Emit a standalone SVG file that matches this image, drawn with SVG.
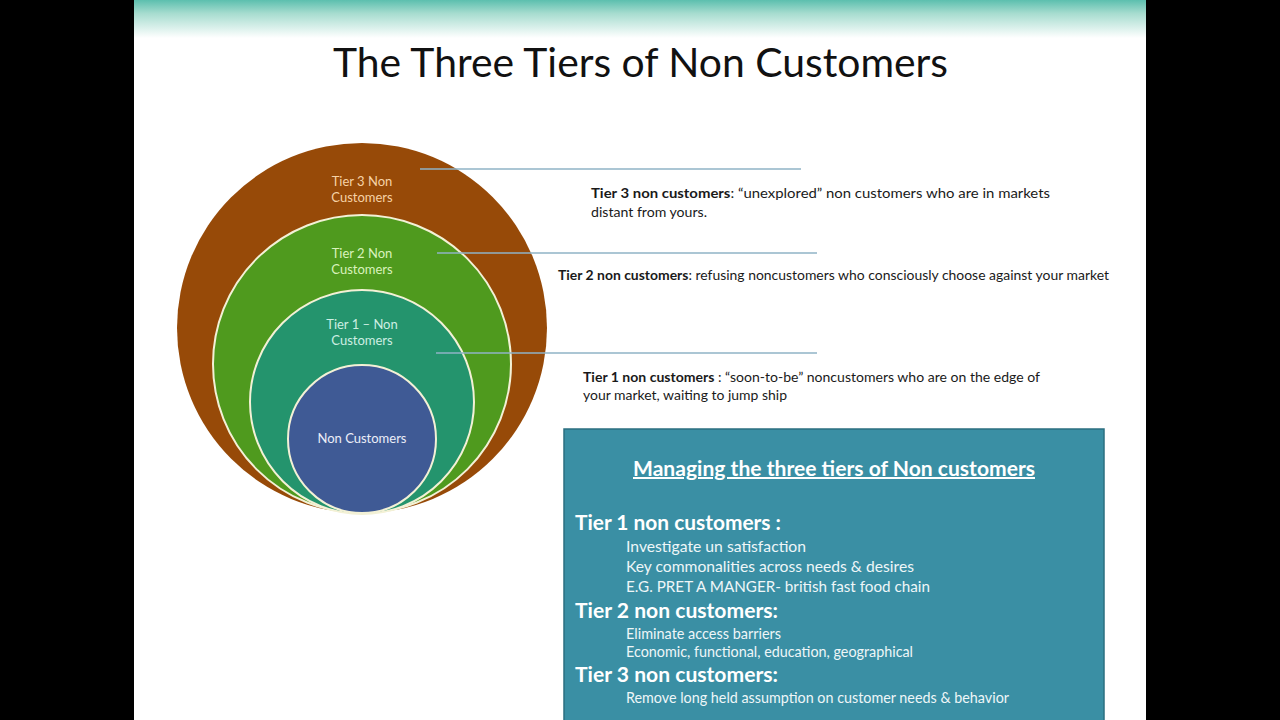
<svg xmlns="http://www.w3.org/2000/svg" width="1280" height="720" viewBox="0 0 1280 720">
<defs>
<linearGradient id="topband" x1="0" y1="0" x2="0" y2="1">
<stop offset="0" stop-color="#5cbfae"/>
<stop offset="0.35" stop-color="#a6dccf"/>
<stop offset="1" stop-color="#ffffff"/>
</linearGradient>
<style>
.ctext{font-family:Lato,"Open Sans",sans-serif;font-size:13px;text-anchor:middle}
.desc{font-family:Lato,"Open Sans",sans-serif;font-size:14px;fill:#1a1a1a}
.lead{stroke:#8fb3c6;stroke-width:1.3;fill:none}
.boxh{font-family:Lato,"Open Sans",sans-serif;font-size:21px;font-weight:bold;fill:#ffffff}
.boxs{font-family:Lato,"Open Sans",sans-serif;font-size:15px;fill:#eef6f8}
.ring{stroke:#f3f1d6;stroke-width:2}
</style>
</defs>
<rect x="0" y="0" width="1280" height="720" fill="#000000"/>
<rect x="134" y="0" width="1012" height="720" fill="#ffffff"/>
<rect x="134" y="0" width="1012" height="38" fill="url(#topband)"/>
<text x="333" y="77" font-family="Lato,'Open Sans',sans-serif" font-size="40" fill="#111111" textLength="615" lengthAdjust="spacingAndGlyphs">The Three Tiers of Non Customers</text>

<g id="tier3">
<circle cx="362" cy="328" r="185" fill="#974a08"/>
<text class="ctext" x="362" y="186" fill="#f6d2a6">Tier 3 Non</text>
<text class="ctext" x="362" y="202" fill="#f6d2a6">Customers</text>
</g>
<g id="tier2">
<circle class="ring" cx="362" cy="364" r="149" fill="#4f9a1e"/>
<text class="ctext" x="362" y="258" fill="#d9f2bd">Tier 2 Non</text>
<text class="ctext" x="362" y="274" fill="#d9f2bd">Customers</text>
</g>
<g id="tier1">
<circle class="ring" cx="362" cy="402" r="112" fill="#24946d"/>
<text class="ctext" x="362" y="329" fill="#cdeee2">Tier 1 – Non</text>
<text class="ctext" x="362" y="345" fill="#cdeee2">Customers</text>
</g>
<g id="noncustomers">
<circle class="ring" cx="362" cy="439" r="74" fill="#3f5a95"/>
<text class="ctext" x="362" y="443" fill="#eceef8">Non Customers</text>
</g>

<g id="connectors">
<line class="lead" x1="420" y1="169" x2="801" y2="169"/>
<line class="lead" x1="437" y1="253" x2="817" y2="253"/>
<line class="lead" x1="436" y1="353" x2="817" y2="353"/>
</g>

<g id="desc3">
<text class="desc" x="591" y="198" textLength="459" lengthAdjust="spacingAndGlyphs"><tspan font-weight="bold">Tier 3 non customers</tspan>: “unexplored”  non customers  who  are in markets</text>
<text class="desc" x="591" y="217" textLength="116" lengthAdjust="spacingAndGlyphs">distant from yours.</text>
</g>
<g id="desc2">
<text class="desc" x="558" y="280" textLength="551" lengthAdjust="spacingAndGlyphs"><tspan font-weight="bold">Tier 2 non customers</tspan>: refusing noncustomers who consciously choose against your market</text>
</g>
<g id="desc1">
<text class="desc" x="583" y="382" textLength="457" lengthAdjust="spacingAndGlyphs"><tspan font-weight="bold">Tier 1 non customers</tspan> : “soon-to-be”  noncustomers who are on the edge of</text>
<text class="desc" x="583" y="400" textLength="204" lengthAdjust="spacingAndGlyphs">your market, waiting to jump ship</text>
</g>

<g id="managing">
<rect x="564" y="429" width="540" height="295" fill="#3a8fa4" stroke="#2b6f80" stroke-width="1.5"/>
<text x="633" y="476" font-family="Lato,'Open Sans',sans-serif" font-size="20" font-weight="bold" fill="#ffffff" text-decoration="underline" textLength="402" lengthAdjust="spacingAndGlyphs">Managing the three tiers of Non customers</text>
<text class="boxh" x="575" y="530" textLength="206" lengthAdjust="spacingAndGlyphs">Tier 1 non customers :</text>
<text class="boxs" x="626" y="552" textLength="180" lengthAdjust="spacingAndGlyphs">Investigate un satisfaction</text>
<text class="boxs" x="626" y="572" textLength="288" lengthAdjust="spacingAndGlyphs">Key commonalities across needs &amp; desires</text>
<text class="boxs" x="626" y="592" textLength="304" lengthAdjust="spacingAndGlyphs">E.G. PRET A MANGER- british fast food chain</text>
<text class="boxh" x="575" y="618" textLength="203" lengthAdjust="spacingAndGlyphs">Tier 2 non customers:</text>
<text class="boxs" x="626" y="639" font-size="14" textLength="155" lengthAdjust="spacingAndGlyphs">Eliminate access barriers</text>
<text class="boxs" x="626" y="657" font-size="14" textLength="287" lengthAdjust="spacingAndGlyphs">Economic, functional, education,  geographical</text>
<text class="boxh" x="575" y="682" textLength="203" lengthAdjust="spacingAndGlyphs">Tier 3 non customers:</text>
<text class="boxs" x="626" y="703" font-size="14" textLength="383" lengthAdjust="spacingAndGlyphs">Remove long held assumption  on  customer  needs  &amp;  behavior</text>
</g>
</svg>
